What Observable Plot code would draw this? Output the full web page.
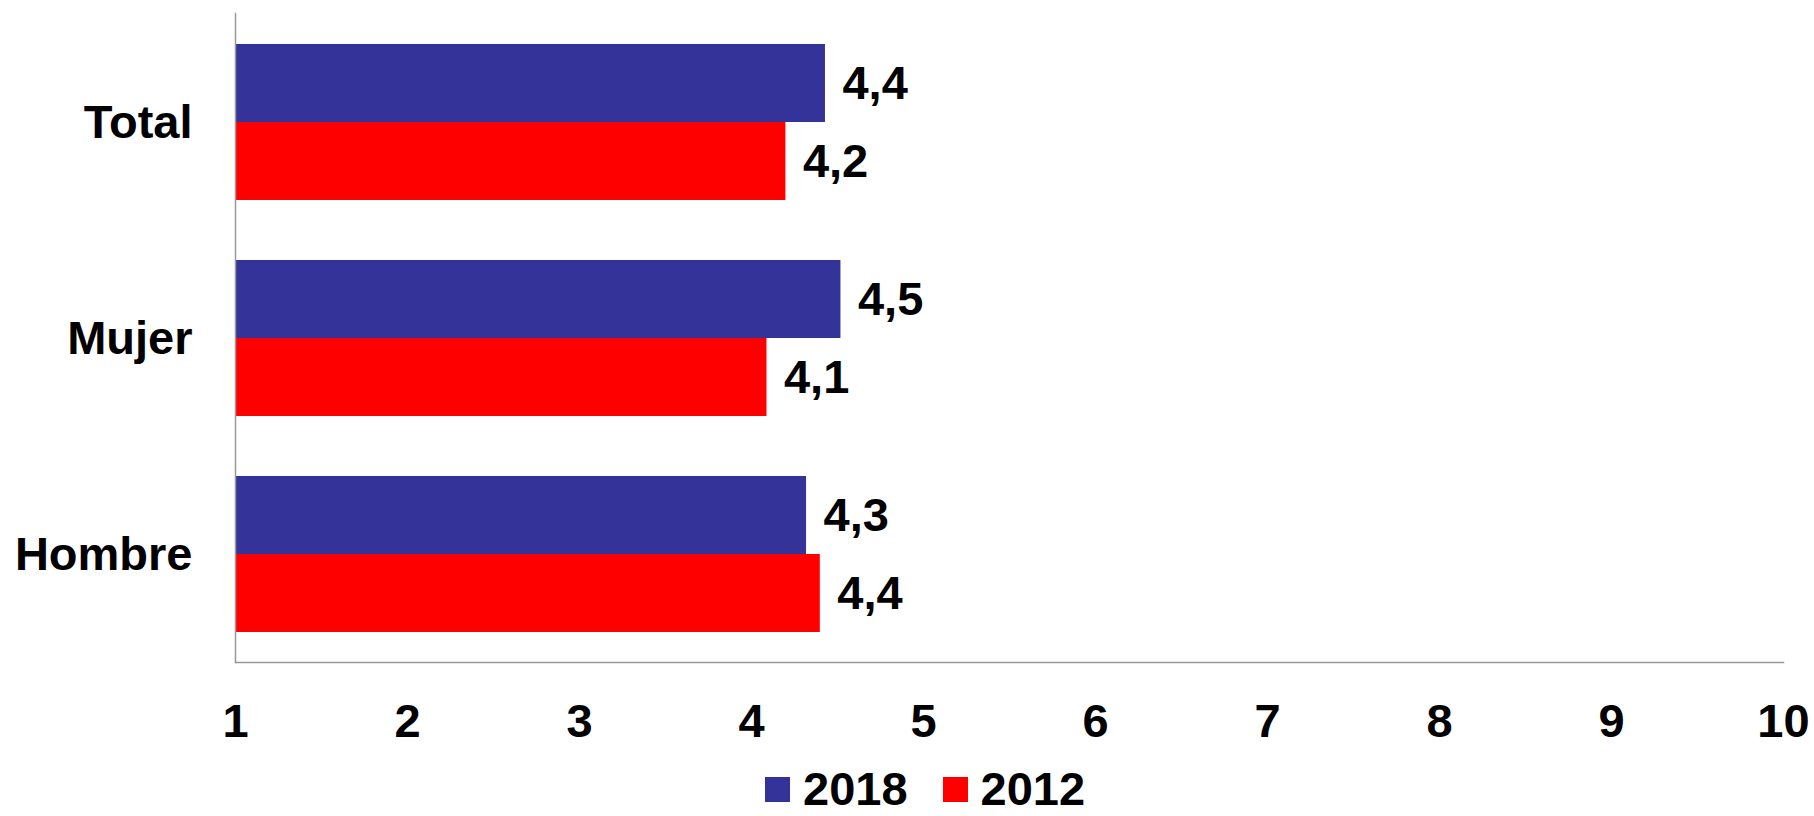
<!DOCTYPE html>
<html>
<head>
<meta charset="utf-8">
<script src="https://cdn.jsdelivr.net/npm/d3@7"></script>
<script src="https://cdn.jsdelivr.net/npm/@observablehq/plot@0.6"></script>
<style>
  body { margin: 0; background: #fff; font-family: "Liberation Sans", Arial, sans-serif; overflow: hidden; }
  #legend { display: flex; align-items: center; height: 52px; padding-left: 765px; font-weight: bold; font-size: 47px; line-height: 52px; color: #000; }
  .item { display: flex; align-items: center; margin-right: 35px; }
  .sw { width: 25px; height: 25px; margin-right: 13px; }
</style>
</head>
<body>
<div id="chart"></div>
<div id="legend"></div>
<script>
const categories = ["Total", "Mujer", "Hombre"];
const years = ["2018", "2012"];
const values2018 = [4.43, 4.52, 4.32];
const values2012 = [4.20, 4.09, 4.40];
const xTicks = [1, 2, 3, 4, 5, 6, 7, 8, 9, 10];
const colors = ["#333399", "#FF0000"];

const d2018 = categories.map((c, i) => ({category: c, value: values2018[i]}));
const d2012 = categories.map((c, i) => ({category: c, value: values2012[i]}));
const fmt = v => v.toFixed(1).replace(".", ",");

const font = {fontSize: 47, fontWeight: "bold", fill: "#000"};

const plot = Plot.plot({
  width: 1814,
  height: 763,
  marginLeft: 235,
  marginRight: 31,
  marginTop: 13,
  marginBottom: 101,
  style: {fontFamily: "'Liberation Sans', Arial, sans-serif", background: "#fff"},
  x: {domain: [1, 10], axis: null, label: null},
  y: {domain: categories, paddingInner: 0.278, paddingOuter: 0.139, axis: null, label: null},
  marks: [
    Plot.barX(d2018, {y: "category", x1: 1, x2: "value", fill: colors[0], insetBottom: 78, insetTop: 0}),
    Plot.barX(d2012, {y: "category", x1: 1, x2: "value", fill: colors[1], insetTop: 78, insetBottom: 0}),
    Plot.text(d2018, {y: "category", x: "value", text: d => fmt(d.value), dx: 17, dy: -39, textAnchor: "start", ...font}),
    Plot.text(d2012, {y: "category", x: "value", text: d => fmt(d.value), dx: 17, dy: 39, textAnchor: "start", ...font}),
    Plot.frame({anchor: "left", stroke: "#999", strokeWidth: 1.5}),
    Plot.frame({anchor: "bottom", stroke: "#999", strokeWidth: 1.5}),
    Plot.axisX(xTicks, {tickSize: 0, tickPadding: 41, fontSize: 47, fontWeight: "bold", color: "#000", tickFormat: d => String(d), label: null}),
    Plot.axisY(categories, {tickSize: 0, tickPadding: 43, fontSize: 47, fontWeight: "bold", color: "#000", label: null})
  ]
});
document.getElementById("chart").appendChild(plot);

const legend = document.getElementById("legend");
years.forEach((y, i) => {
  const item = document.createElement("div");
  item.className = "item";
  const sw = document.createElement("div");
  sw.className = "sw";
  sw.style.background = colors[i];
  const t = document.createElement("span");
  t.textContent = y;
  item.appendChild(sw);
  item.appendChild(t);
  legend.appendChild(item);
});
</script>
</body>
</html>
